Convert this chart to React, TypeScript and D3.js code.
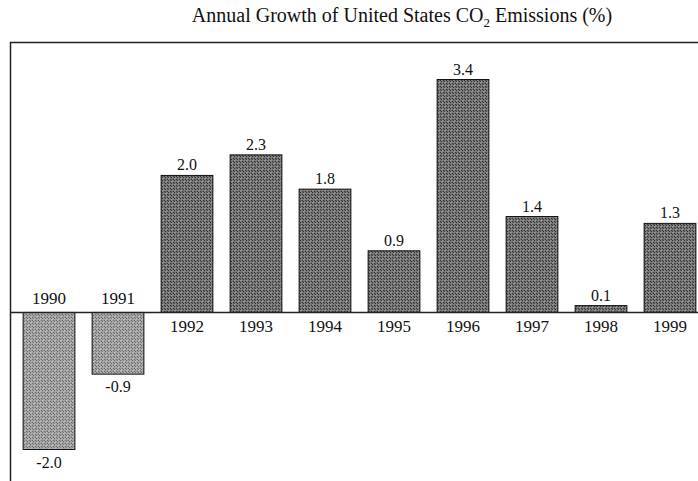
import React from "react";
import * as d3 from "d3";

const years = ["1990", "1991", "1992", "1993", "1994", "1995", "1996", "1997", "1998", "1999"];
const growth = [-2.0, -0.9, 2.0, 2.3, 1.8, 0.9, 3.4, 1.4, 0.1, 1.3];
const valueLabels = ["-2.0", "-0.9", "2.0", "2.3", "1.8", "0.9", "3.4", "1.4", "0.1", "1.3"];

const W = 698;
const H = 481;
const FONT = "Liberation Serif, Tinos, Times New Roman, Times, Nimbus Roman, DejaVu Serif, serif";

export default function App() {
  const x = d3.scaleBand<string>().domain(years).range([14.5, 704.5]).paddingInner(0.25).paddingOuter(0.125);
  const y = d3.scaleLinear().domain([-2, 3.4]).range([449.5, 79.5]);
  const y0 = y(0);

  const darkCells = [
    "#2c2c2c", "#6a6a6a", "#404040", "#7e7e7e",
    "#5e5e5e", "#303030", "#848484", "#3a3a3a",
    "#424242", "#767676", "#2a2a2a", "#666666",
    "#808080", "#383838", "#626262", "#2e2e2e",
  ];
  const lightCells = [
    "#626262", "#a4a4a4", "#767676", "#b0b0b0",
    "#949494", "#686868", "#b8b8b8", "#727272",
    "#7a7a7a", "#aaaaaa", "#606060", "#9c9c9c",
    "#b4b4b4", "#6e6e6e", "#989898", "#666666",
  ];

  const cellRects = (cells: string[]) =>
    cells.map((c, i) => (
      <rect key={i} x={(i % 4) * 1.5} y={Math.floor(i / 4) * 1.5} width={1.5} height={1.5} fill={c} />
    ));

  return (
    <svg width={W} height={H} style={{ position: "absolute", left: 0, top: 0, background: "#fff" }}>
      <defs>
        <pattern id="darkPat" patternUnits="userSpaceOnUse" width={6} height={6}>
          {cellRects(darkCells)}
        </pattern>
        <pattern id="lightPat" patternUnits="userSpaceOnUse" width={6} height={6}>
          {cellRects(lightCells)}
        </pattern>
      </defs>
      <rect x={0} y={0} width={W} height={H} fill="#fff" />
      <text x={402} y={22} textAnchor="middle" style={{ fontFamily: FONT }} fontSize={20} fill="#111">
        Annual Growth of United States CO
        <tspan fontSize={13} dy={5}>2</tspan>
        <tspan dy={-5}> Emissions (%)</tspan>
      </text>
      <line x1={10} y1={42.5} x2={W} y2={42.5} stroke="#222" strokeWidth={1.5} />
      <line x1={10.5} y1={42} x2={10.5} y2={H} stroke="#222" strokeWidth={1.5} />
      {years.map((yr, i) => {
        const v = growth[i];
        const bx = x(yr)!;
        const bw = x.bandwidth();
        const top = v >= 0 ? y(v) : y0;
        const h = Math.abs(y(v) - y0);
        const cx = bx + bw / 2;
        return (
          <g key={yr}>
            <rect x={bx} y={top} width={bw} height={h} fill={v >= 0 ? "url(#darkPat)" : "url(#lightPat)"} stroke="#111" strokeWidth={1} />
            <text x={cx} y={v >= 0 ? y(v) - 5 : y(v) + 18} textAnchor="middle" style={{ fontFamily: FONT }} fontSize={16} fill="#111">
              {valueLabels[i]}
            </text>
            <text x={cx} y={v >= 0 ? y0 + 20 : y0 - 8} textAnchor="middle" style={{ fontFamily: FONT }} fontSize={17} fill="#111">
              {yr}
            </text>
          </g>
        );
      })}
      <line x1={10} y1={y0} x2={W} y2={y0} stroke="#222" strokeWidth={1.5} />
    </svg>
  );
}
